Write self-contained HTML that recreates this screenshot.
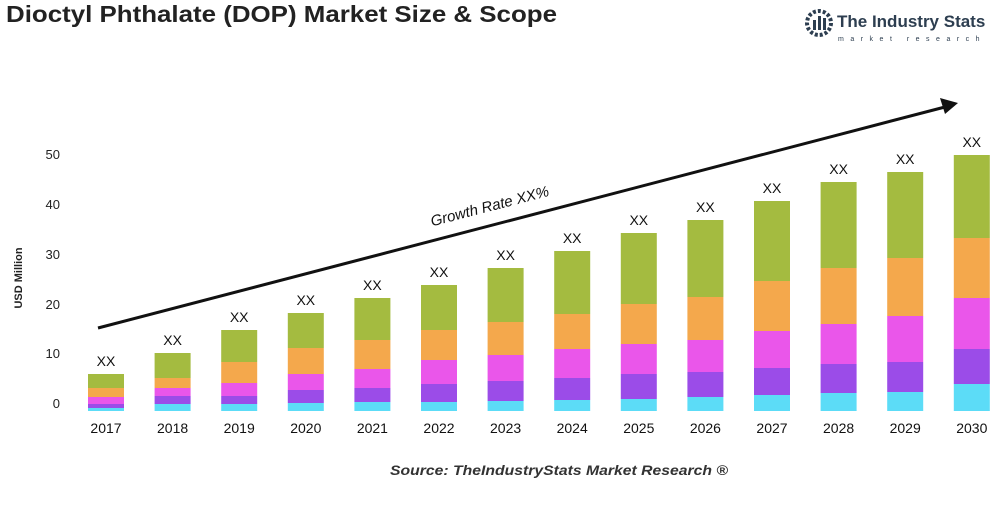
<!DOCTYPE html>
<html><head><meta charset="utf-8"><style>
body{margin:0;background:#fff;}
svg text{font-family:"Liberation Sans",sans-serif;}
</style></head><body>
<svg width="1000" height="500" viewBox="0 0 1000 500" xmlns="http://www.w3.org/2000/svg">
<text x="6" y="22" font-size="23" font-weight="bold" fill="#222" textLength="551" lengthAdjust="spacingAndGlyphs">Dioctyl Phthalate (DOP) Market Size &amp; Scope</text>
<g transform="translate(806,8)">
<circle cx="13" cy="15" r="12" fill="none" stroke="#2d3e50" stroke-width="4" stroke-dasharray="3 2"/>
<rect x="7" y="12" width="3" height="10" fill="#2d3e50"/><rect x="12" y="8" width="3" height="14" fill="#2d3e50"/><rect x="17" y="10" width="3" height="12" fill="#2d3e50"/>
</g>
<text x="837" y="27" font-size="17" font-weight="bold" fill="#2d3e50">The Industry Stats</text>
<text x="838" y="41" font-size="7" fill="#2d3e50" letter-spacing="6.5">market research</text>
<text transform="translate(22,278) rotate(-90)" font-size="11" font-weight="bold" fill="#222" text-anchor="middle">USD Million</text>
<g font-size="13" fill="#222" text-anchor="end">
<text x="60" y="159">50</text><text x="60" y="209">40</text><text x="60" y="259">30</text><text x="60" y="309">20</text><text x="60" y="358">10</text><text x="60" y="408">0</text>
</g>
<g id="bars"></g>
<line x1="98" y1="328" x2="945" y2="107" stroke="#111" stroke-width="3"/>
<polygon points="958,103 940,98 945,114" fill="#111"/>
<text transform="translate(491,211) rotate(-14.6)" font-size="15" font-style="italic" fill="#111" text-anchor="middle">Growth Rate XX%</text>
<text x="390" y="475" font-size="14" font-style="italic" font-weight="bold" fill="#333" textLength="338" lengthAdjust="spacingAndGlyphs">Source: TheIndustryStats Market Research ®</text>
</svg>
<script>
var d=[[374,388,397,404,408],[353,378,388,396,404],[330,362,383,396,404],[313,348,374,390,403],[298,340,369,388,402],[285,330,360,384,402],[268,322,355,381,401],[251,314,349,378,400],[233,304,344,374,399],[220,297,340,372,397],[201,281,331,368,395],[182,268,324,364,393],[172,258,316,362,392],[155,238,298,349,384]];
var c=["#a4bb40","#f4a84c","#ea56ea","#9b4ce8","#5cdcf7"];
var s="";
d.forEach(function(b,i){var cx=106+i*66.6,x=cx-18;var ys=b.concat([411]);
for(var k=0;k<5;k++){s+='<rect x="'+x+'" y="'+ys[k]+'" width="36" height="'+(ys[k+1]-ys[k])+'" fill="'+c[k]+'"/>';}
s+='<text x="'+cx+'" y="'+(b[0]-8)+'" font-size="14" text-anchor="middle" fill="#111">XX</text>';
s+='<text x="'+cx+'" y="433" font-size="14" text-anchor="middle" fill="#111">'+(2017+i)+'</text>';});
document.getElementById("bars").innerHTML=s;
</script>
</body></html>
